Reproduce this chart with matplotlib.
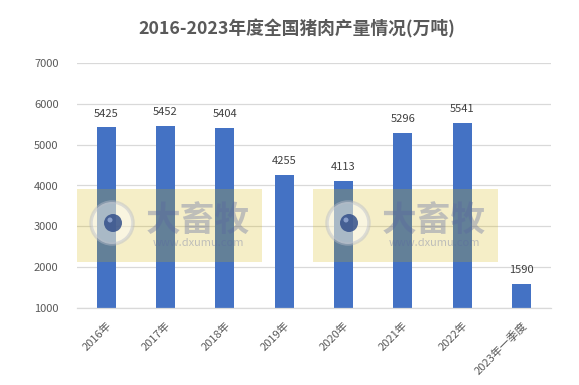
import matplotlib
matplotlib.use("Agg")
import matplotlib.pyplot as plt
from matplotlib.patches import Rectangle, Circle

plt.rcParams['font.family'] = ['Noto Sans CJK SC', 'DejaVu Sans']

categories = ["2016年", "2017年", "2018年", "2019年", "2020年", "2021年", "2022年", "2023年一季度"]
values = [5425, 5452, 5404, 4255, 4113, 5296, 5541, 1590]
yticks = [1000, 2000, 3000, 4000, 5000, 6000, 7000]

W, H = 579, 385
fig = plt.figure(figsize=(W / 100, H / 100), dpi=100)
L, R, T, B = 76.6, 551, 63.3, 307.7
ax = fig.add_axes([L / W, 1 - B / H, (R - L) / W, (B - T) / H])

x = list(range(len(categories)))
ax.bar(x, values, width=0.32, color="#4472C4", zorder=3)
ax.set_ylim(1000, 7000)
ax.set_xlim(-0.5, len(categories) - 0.5)
ax.set_yticks(yticks)
ax.set_yticklabels([str(v) for v in yticks], fontsize=8, color="#595959")
ax.set_xticks(x)
ax.set_xticklabels(categories, rotation=45, ha="right", rotation_mode="anchor",
                   fontsize=8, color="#595959")
ax.tick_params(axis="y", length=0, pad=13)
ax.tick_params(axis="x", length=0, pad=9)
ax.yaxis.grid(True, color="#D9D9D9", linewidth=0.9, zorder=0)
for s in ["top", "right", "left"]:
    ax.spines[s].set_visible(False)
ax.spines["bottom"].set_color("#D9D9D9")
ax.spines["bottom"].set_linewidth(0.9)
ax.spines["bottom"].set_zorder(4)

for xi, v in zip(x, values):
    ax.annotate(str(v), (xi, v), xytext=(0, 10), textcoords="offset points",
                ha="center", va="center", fontsize=8, color="#404040", zorder=5)

fig.text(296.5 / W, 1 - 29 / H, "2016-2023年度全国猪肉产量情况(万吨)", ha="center", va="center",
         fontsize=12.8, fontweight="bold", color="#595959")

# watermark overlays
for x0 in [77, 313]:
    x1 = x0 + 185
    y0, y1 = 189, 262
    fig.patches.append(Rectangle((x0 / W, 1 - y1 / H), (x1 - x0) / W, (y1 - y0) / H,
                                 transform=fig.transFigure, facecolor=(212 / 255, 178 / 255, 0),
                                 alpha=0.22, edgecolor="none", zorder=10))
    cx, cy = x0 + 35, H - 223
    fig.patches.append(Circle((cx, cy), 21, transform=None, facecolor="white",
                              alpha=0.45, edgecolor="#B8BCC8", linewidth=2.5, zorder=11))
    fig.patches.append(Circle((cx + 1, cy), 9, transform=None, facecolor="#34508A",
                              alpha=0.85, edgecolor="none", zorder=12))
    fig.patches.append(Circle((cx - 2, cy + 3), 2.5, transform=None, facecolor="#8FA4D0",
                              alpha=0.9, edgecolor="none", zorder=13))
    fig.text((x0 + 121) / W, 1 - 220 / H, "大畜牧", ha="center", va="center", fontsize=25,
             fontweight="bold", color="#5A66A0", alpha=0.35, zorder=12)
    fig.text((x0 + 121) / W, 1 - 243 / H, "www.dxumu.com", ha="center", va="center", fontsize=8,
             color="#5A66A0", alpha=0.35, zorder=12)

fig.savefig("out.png", dpi=100)
